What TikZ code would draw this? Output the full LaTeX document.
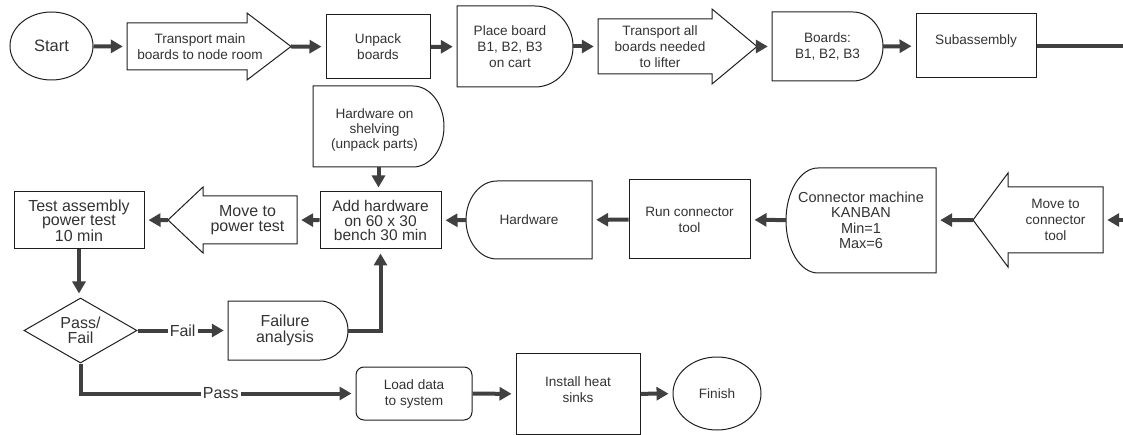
\documentclass[tikz,border=0pt]{standalone}
\usepackage{fontspec}
\setmainfont{Liberation Sans}
\usetikzlibrary{arrows.meta,shapes.geometric}
\definecolor{ink}{HTML}{1E1E1E}
\definecolor{txt}{HTML}{333333}
\definecolor{conncol}{HTML}{404040}
% D-shapes: left x, top y, right x, bottom y, arc x-radius
\newcommand{\DshapeRight}[5]{%
  \draw[outl] (#1,#2) -- ({#3-#5},#2)
    .. controls ({#3-#5+0.5523*#5},#2) and (#3,{(#2+#4)/2-0.5523*(#4-#2)/2}) .. (#3,{(#2+#4)/2})
    .. controls (#3,{(#2+#4)/2+0.5523*(#4-#2)/2}) and ({#3-#5+0.5523*#5},#4) .. ({#3-#5},#4)
    -- (#1,#4) -- cycle;}
\newcommand{\DshapeLeft}[5]{%
  \draw[outl] (#3,#2) -- ({#1+#5},#2)
    .. controls ({#1+#5-0.5523*#5},#2) and (#1,{(#2+#4)/2-0.5523*(#4-#2)/2}) .. (#1,{(#2+#4)/2})
    .. controls (#1,{(#2+#4)/2+0.5523*(#4-#2)/2}) and ({#1+#5-0.5523*#5},#4) .. ({#1+#5},#4)
    -- (#3,#4) -- cycle;}
\begin{document}
\begin{tikzpicture}[x=1pt,y=-1pt,
  outl/.style={draw=ink,line width=1pt,line join=miter},
  box/.style={draw=ink,line width=1pt,rectangle,inner sep=0pt,align=center,text=txt},
  lbl/.style={draw=none,rectangle,inner sep=0pt,align=center,text=txt},
  conn/.style={draw=conncol,line width=4pt,-{Triangle[length=12pt,width=13pt]},shorten >=4pt},
  connplain/.style={draw=conncol,line width=4pt},
  small/.style={font=\fontsize{13.6}{16}\selectfont},
  big/.style={font=\fontsize{16}{15}\selectfont},
  onlinelbl/.style={fill=white,inner sep=2pt,text=txt,font=\fontsize{16}{16}\selectfont},
]
\useasboundingbox (0,0) rectangle (1123,435);

% ---------- top row ----------
\node[ellipse,draw=ink,line width=1pt,minimum width=83pt,minimum height=68pt,inner sep=0pt,text=txt,
      font=\fontsize{16.5}{18}\selectfont] (start) at (51.5,46) {Start};

\draw[outl] (127,23) -- (247,23) -- (247,13) -- (291,46.5) -- (247,80) -- (247,70) -- (127,70) -- cycle;
\node[lbl,small,minimum width=146pt,minimum height=47pt] (tr1) at (200,46.5) {Transport main\\boards to node room};
\coordinate (tr1tip) at (291,46.5);

\node[box,small,minimum width=104pt,minimum height=64pt] (unp) at (378,47) {Unpack\\boards};

\DshapeRight{457}{6}{573}{87}{38}
\node[lbl,small,minimum width=116pt,minimum height=81pt] (pb) at (515,46.5) {\hspace*{-10pt}Place board\\\hspace*{-10pt}B1, B2, B3\\\hspace*{-10pt}on cart};

\draw[outl] (598,19) -- (712,19) -- (712,9) -- (757,46.5) -- (712,84) -- (712,74) -- (598,74) -- cycle;
\node[lbl,small,minimum width=124pt,minimum height=55pt] (tr2) at (660,46.5) {Transport all\\boards needed\\to lifter};
\coordinate (tr2tip) at (757,46.5);

\DshapeRight{772}{12}{883}{81}{30}
\node[lbl,small,minimum width=111pt,minimum height=69pt] (bd) at (827.5,46.5) {Boards:\\B1, B2, B3};

\node[box,minimum width=120pt,minimum height=64pt,
      label={[small,text=txt,yshift=5pt]center:Subassembly}] (sub) at (976,46) {};
\coordinate (redge1) at (1123,46);

% ---------- middle row ----------
\DshapeRight{313}{86}{444}{167}{31}
\node[lbl,minimum width=131pt,minimum height=81pt,
      label={[font=\fontsize{13.6}{15}\selectfont,align=center,text=txt,yshift=-3.5pt,xshift=-4pt]center:Hardware on\\shelving\\(unpack parts)}] (shelf) at (378.5,126.5) {};

\node[box,font=\fontsize{15.5}{14.5}\selectfont,minimum width=121pt,minimum height=57pt] (add) at (380.5,220.5) {Add hardware\\on 60 x 30\\bench 30 min};

\draw[outl] (297,196) -- (203,196) -- (203,187) -- (168,220) -- (203,253) -- (203,244) -- (297,244) -- cycle;
\node[lbl,big,minimum width=99pt,minimum height=48pt] (mvp) at (247.5,220) {Move to\\power test};
\coordinate (mvptip) at (168,220);

\node[box,font=\fontsize{16}{14.5}\selectfont,minimum width=130pt,minimum height=57pt] (test) at (79,220.5) {Test assembly\\power test\\10 min};

\DshapeLeft{466}{181}{592}{259}{31}
\node[lbl,small,minimum width=126pt,minimum height=78pt] (hw) at (529,220) {Hardware};

\node[box,small,minimum width=121pt,minimum height=79pt] (run) at (689.5,219.5) {Run connector\\tool};

\DshapeLeft{786}{168}{936}{273}{32}
\node[lbl,font=\fontsize{14.5}{15.5}\selectfont,minimum width=150pt,minimum height=105pt] (kan) at (861,220.5) {Connector machine\\KANBAN\\Min=1\\Max=6};

\draw[outl] (1103,187) -- (1008,187) -- (1008,173) -- (973,220) -- (1008,267) -- (1008,253) -- (1103,253) -- cycle;
\node[lbl,small,minimum width=95pt,minimum height=66pt] (mvc) at (1055.5,220) {Move to\\connector\\tool};
\coordinate (mvctip) at (973,220);
\coordinate (redge2) at (1123,220);

% ---------- bottom ----------
\node[diamond,aspect=1.74,draw=ink,line width=1pt,inner sep=0pt,minimum width=113pt,minimum height=65pt,
      align=center,text=txt,font=\fontsize{16}{15}\selectfont] (pf) at (80.5,330.5) {Pass/\\Fail};

\DshapeRight{228}{301}{348}{360}{28}
\node[lbl,font=\fontsize{16}{16}\selectfont,minimum width=120pt,minimum height=59pt] (fa) at (288,330.5) {\hspace*{-6pt}Failure\\\hspace*{-6pt}analysis};

\node[box,small,rounded corners=8pt,minimum width=116pt,minimum height=53pt] (load) at (414,393.5) {Load data\\to system};

\node[box,minimum width=124pt,minimum height=81pt,
      label={[small,align=center,text=txt,yshift=4pt]center:Install heat\\sinks}] (inst) at (578,394) {};

\node[ellipse,draw=ink,line width=1pt,minimum width=88pt,minimum height=73pt,inner sep=0pt,text=txt,small] (fin) at (717,393.5) {Finish};

% ---------- connectors ----------
\draw[conn] (start) -- (tr1.west);
\draw[conn] (tr1tip) -- (unp);
\draw[conn] (unp) -- (pb);
\draw[conn] (pb) -- (tr2.west);
\draw[conn] (tr2tip) -- (bd);
\draw[conn] (bd) -- (sub);
\draw[connplain] (sub) -- (redge1);

\draw[conn] (redge2) -- (mvc.east);
\draw[conn] (mvctip) -- (kan);
\draw[conn] (kan) -- (run);
\draw[conn] (run) -- (hw);
\draw[conn] (hw) -- (add);
\draw[conn] (add) -- (mvp.east);
\draw[conn] (mvptip) -- (test);
\draw[conn] (shelf.south) -- (shelf.south |- add.north);

\draw[conn] (test.south) -- (test.south |- pf.north);
\draw[conn] (pf) -- node[onlinelbl] {Fail} (fa);
\draw[conn] (fa.east) -| (add.south);
\draw[conn] (pf.south) |- node[onlinelbl,pos=0.755] {Pass} (load.west);
\draw[conn] (load) -- (inst);
\draw[conn] (inst) -- (fin);
\end{tikzpicture}
\end{document}
